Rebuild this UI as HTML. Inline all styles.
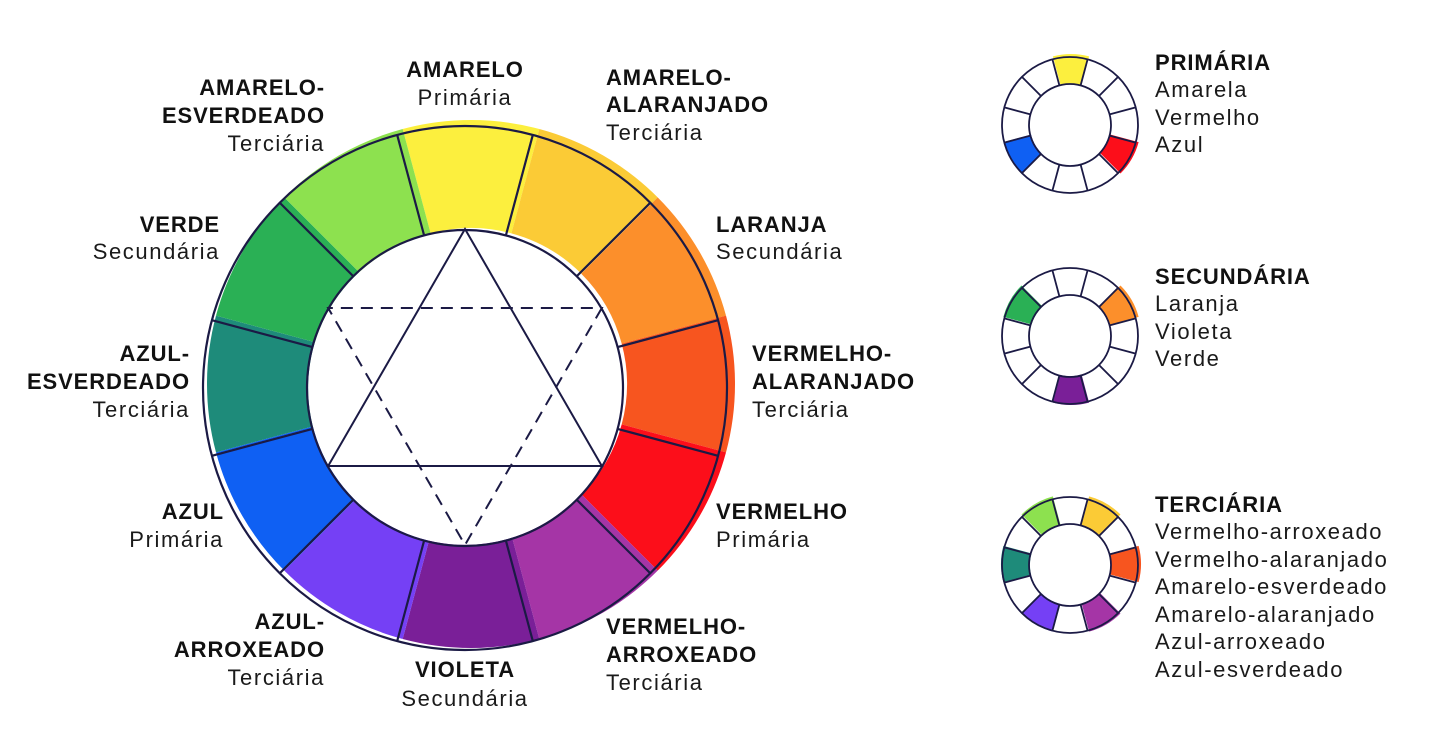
<!DOCTYPE html>
<html><head><meta charset="utf-8">
<style>
html,body{margin:0;padding:0;background:#fff;width:1438px;height:755px;overflow:hidden}
svg{display:block}
text{font-family:"Liberation Sans",sans-serif;fill:#111}
.b{font-weight:bold;font-size:22px;letter-spacing:0.9px}
.r{font-size:22px;letter-spacing:1.6px;fill:#1a1a1a}
</style></head>
<body>
<svg id="svg" width="1438" height="755" viewBox="0 0 1438 755">
<g id="main"></g>
<g id="small"></g>
<g id="labels">
<text class="b" x="465" y="77" text-anchor="middle">AMARELO</text>
<text class="r" x="465" y="105" text-anchor="middle">Primária</text>
<text class="b" x="325" y="95" text-anchor="end">AMARELO-</text>
<text class="b" x="325" y="123" text-anchor="end">ESVERDEADO</text>
<text class="r" x="325" y="151" text-anchor="end">Terciária</text>
<text class="b" x="606" y="85">AMARELO-</text>
<text class="b" x="606" y="112">ALARANJADO</text>
<text class="r" x="606" y="140">Terciária</text>
<text class="b" x="716" y="232">LARANJA</text>
<text class="r" x="716" y="259">Secundária</text>
<text class="b" x="220" y="232" text-anchor="end">VERDE</text>
<text class="r" x="220" y="259" text-anchor="end">Secundária</text>
<text class="b" x="190" y="361" text-anchor="end">AZUL-</text>
<text class="b" x="190" y="389" text-anchor="end">ESVERDEADO</text>
<text class="r" x="190" y="417" text-anchor="end">Terciária</text>
<text class="b" x="752" y="361">VERMELHO-</text>
<text class="b" x="752" y="389">ALARANJADO</text>
<text class="r" x="752" y="417">Terciária</text>
<text class="b" x="224" y="519" text-anchor="end">AZUL</text>
<text class="r" x="224" y="547" text-anchor="end">Primária</text>
<text class="b" x="716" y="519">VERMELHO</text>
<text class="r" x="716" y="547">Primária</text>
<text class="b" x="325" y="629" text-anchor="end">AZUL-</text>
<text class="b" x="325" y="657" text-anchor="end">ARROXEADO</text>
<text class="r" x="325" y="685" text-anchor="end">Terciária</text>
<text class="b" x="465" y="677" text-anchor="middle">VIOLETA</text>
<text class="r" x="465" y="706" text-anchor="middle">Secundária</text>
<text class="b" x="606" y="634">VERMELHO-</text>
<text class="b" x="606" y="662">ARROXEADO</text>
<text class="r" x="606" y="690">Terciária</text>
</g>
<g id="legend">
<text class="b" x="1155" y="70">PRIMÁRIA</text>
<text class="r" x="1155" y="97">Amarela</text>
<text class="r" x="1155" y="125">Vermelho</text>
<text class="r" x="1155" y="152">Azul</text>
<text class="b" x="1155" y="284">SECUNDÁRIA</text>
<text class="r" x="1155" y="311">Laranja</text>
<text class="r" x="1155" y="339">Violeta</text>
<text class="r" x="1155" y="366">Verde</text>
<text class="b" x="1155" y="512">TERCIÁRIA</text>
<text class="r" x="1155" y="539">Vermelho-arroxeado</text>
<text class="r" x="1155" y="567">Vermelho-alaranjado</text>
<text class="r" x="1155" y="594">Amarelo-esverdeado</text>
<text class="r" x="1155" y="622">Amarelo-alaranjado</text>
<text class="r" x="1155" y="649">Azul-arroxeado</text>
<text class="r" x="1155" y="677">Azul-esverdeado</text>
</g>
</svg>
<script>
const hueNames = ["amarelo","amarelo-alaranjado","laranja","vermelho-alaranjado","vermelho","vermelho-arroxeado","violeta","azul-arroxeado","azul","azul-esverdeado","verde","amarelo-esverdeado"];
const hueColors = ["#FCEF3E","#FBCB36","#FC8F2B","#F7551F","#FC0E1A","#A535A6","#7A1F98","#7540F5","#0F60F3","#1E8B7A","#2AB055","#8DE14F"];
const primaryIdx = [0,4,8];
const secondaryIdx = [2,6,10];
const tertiaryIdx = [1,3,5,7,9,11];

const NS="http://www.w3.org/2000/svg";
const INK="#1b1a45";
function mk(tag,attrs,parent){const e=document.createElementNS(NS,tag);for(const k in attrs)e.setAttribute(k,attrs[k]);parent.appendChild(e);return e;}
function pt(cx,cy,r,deg){const a=(deg-90)*Math.PI/180;return [cx+r*Math.cos(a),cy+r*Math.sin(a)];}
function sector(cx,cy,r0,r1,a0,a1){const p1=pt(cx,cy,r1,a0),p2=pt(cx,cy,r1,a1),p3=pt(cx,cy,r0,a1),p4=pt(cx,cy,r0,a0);
return `M${p1[0]},${p1[1]} A${r1},${r1} 0 0 1 ${p2[0]},${p2[1]} L${p3[0]},${p3[1]} A${r0},${r0} 0 0 0 ${p4[0]},${p4[1]} Z`;}
function angleOf(i){return i*360/hueNames.length;}

function drawWheel(g,cc,cr0,cr1,oc,or0,or1,indices,sw){
  indices.forEach(i=>{
    const a=angleOf(i);
    const p=mk('path',{d:sector(cc[0],cc[1],cr0,cr1,a-15,a+15),fill:hueColors[i]},g);
    
    
  });
  const m=mk('circle',{cx:oc[0],cy:oc[1],r:or0-sw/2,fill:'#fff'},g);
  
  
  const c1=mk('circle',{cx:oc[0],cy:oc[1],r:or1,fill:'none',stroke:INK,'stroke-width':sw},g);
  
  
  const c2=mk('circle',{cx:oc[0],cy:oc[1],r:or0,fill:'none',stroke:INK,'stroke-width':sw},g);
  
  
  hueNames.forEach((n,i)=>{
    const a=angleOf(i)+15;const p=pt(oc[0],oc[1],or0,a),q=pt(oc[0],oc[1],or1,a);
    const l=mk('line',{x1:p[0],y1:p[1],x2:q[0],y2:q[1],stroke:INK,'stroke-width':sw},g);
    
    
  });
}
const main=document.getElementById('main');
drawWheel(main,[471,384],156,264,[465,388],158,262,hueNames.map((_,i)=>i),2.2);
const tc=[465,387],tr=158;
const s=[0,120,240].map(a=>pt(tc[0],tc[1],tr,a));
const t1=mk('polygon',{points:s.map(p=>p.join(',')).join(' '),fill:'none',stroke:INK,'stroke-width':2},main);


const d=[60,180,300].map(a=>pt(tc[0],tc[1],tr,a));
const t2=mk('polygon',{points:d.map(p=>p.join(',')).join(' '),fill:'none',stroke:INK,'stroke-width':2,'stroke-dasharray':'12,8'},main);



const small=document.getElementById('small');
[[125,primaryIdx],[336,secondaryIdx],[565,tertiaryIdx]].forEach(([cy,idx])=>{
  const g=mk('g',{},small);
  
  
  drawWheel(g,[1071,cy-1],40,70,[1070,cy],41,68,idx,1.8);
});
</script>
</body></html>
